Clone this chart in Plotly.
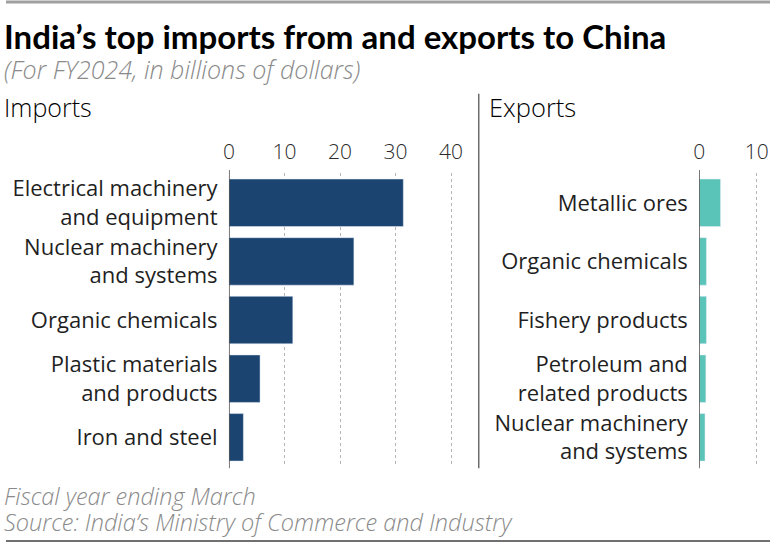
import plotly.graph_objects as go

W, H = 770, 542

import_cats = ["Electrical machinery<br>and equipment", "Nuclear machinery<br>and systems",
               "Organic chemicals", "Plastic materials<br>and products", "Iron and steel"]
import_vals = [31.4, 22.5, 11.5, 5.6, 2.6]
export_cats = ["Metallic ores", "Organic chemicals", "Fishery products",
               "Petroleum and<br>related products", "Nuclear machinery<br>and systems"]
export_vals = [3.7, 1.25, 1.25, 1.15, 1.0]
import_ticks = [0, 10, 20, 30, 40]
export_ticks = [0, 10]

FONT = "Open Sans"
TFONT = "Lato"
IMP_COLOR = "#1b4471"
EXP_COLOR = "#5bc4b8"

def px(x):
    return x / W

def py(y):
    return 1 - y / H

fig = go.Figure()
fig.add_trace(go.Bar(x=import_vals, y=import_cats, orientation="h", marker_color=IMP_COLOR,
                     xaxis="x", yaxis="y", showlegend=False))
fig.add_trace(go.Bar(x=export_vals, y=export_cats, orientation="h", marker_color=EXP_COLOR,
                     xaxis="x2", yaxis="y2", showlegend=False))

ydom = [py(466.5), py(172.8)]
tickfont = dict(family=FONT, size=21, color="#2a2a2a", weight=300)
axcommon = dict(side="top", showgrid=True, gridcolor="#b5b5b5", griddash="dot", gridwidth=1,
                zeroline=False, showline=False, ticks="outside", ticklen=5,
                tickcolor="rgba(0,0,0,0)", tickfont=tickfont, fixedrange=True)
ycommon = dict(autorange="reversed", showgrid=False, zeroline=False, showline=False,
               ticks="outside", ticklen=6, tickcolor="rgba(0,0,0,0)",
               tickfont=dict(family=FONT, size=22, color="#1f1f1f", weight=400), domain=ydom)

fig.update_layout(
    width=W, height=H, margin=dict(l=0, r=0, t=0, b=0),
    paper_bgcolor="white", plot_bgcolor="white", bargap=0.19,
    xaxis=dict(domain=[px(224.7), px(462)], range=[0, 42.4], tickvals=import_ticks,
               anchor="y", **axcommon),
    yaxis=dict(anchor="x", **ycommon),
    xaxis2=dict(domain=[px(698.7), 1.0], range=[0, 12.3], tickvals=export_ticks,
                anchor="y2", **axcommon),
    yaxis2=dict(anchor="x2", **ycommon),
)

line_color = "#4a4a4a"
shapes = [
    dict(type="line", xref="x", yref="paper", x0=0, x1=0, y0=py(468), y1=py(169.3),
         line=dict(color=line_color, width=1.5)),
    dict(type="line", xref="x2", yref="paper", x0=0, x1=0, y0=py(468), y1=py(169.3),
         line=dict(color=line_color, width=1.5)),
    dict(type="line", xref="paper", yref="paper", x0=px(476.5), x1=px(476.5), y0=py(468), y1=py(93),
         line=dict(color=line_color, width=1.2)),
    dict(type="line", xref="paper", yref="paper", x0=0, x1=1, y0=py(1), y1=py(1),
         line=dict(color="#a0a0a0", width=3)),
    dict(type="line", xref="paper", yref="paper", x0=0, x1=1, y0=py(541), y1=py(541),
         line=dict(color="#707070", width=2)),
]
fig.update_layout(shapes=shapes)

def ann(text, x, y, size, color="#000000", italic=False, bold=False, family=FONT, weight=None):
    t = text
    if bold:
        t = "<b>" + t + "</b>"
    if italic:
        t = "<i>" + t + "</i>"
    f = dict(family=family, size=size, color=color)
    if weight is not None:
        f["weight"] = weight
    return dict(text=t, x=px(x), y=py(y), xref="paper", yref="paper", xanchor="left",
                yanchor="middle", showarrow=False, font=f, borderpad=0)

fig.update_layout(annotations=[
    ann("India\u2019s top imports from and exports to China", -3, 35, 33, bold=True, family=TFONT),
    ann("(For FY2024, in billions of dollars)", -3, 68, 25, color="#8a8a8a", italic=True, weight=300),
    ann("Imports", -3, 106, 25, weight=300),
    ann("Exports", 486, 106, 25.5, weight=300),
    ann("Fiscal year ending March", -3, 496, 23.5, color="#8a8a8a", italic=True, weight=300),
    ann("Source: India\u2019s Ministry of Commerce and Industry", -3, 522, 23.5, color="#8a8a8a", italic=True, weight=300),
])

fig.write_html("out.html")
